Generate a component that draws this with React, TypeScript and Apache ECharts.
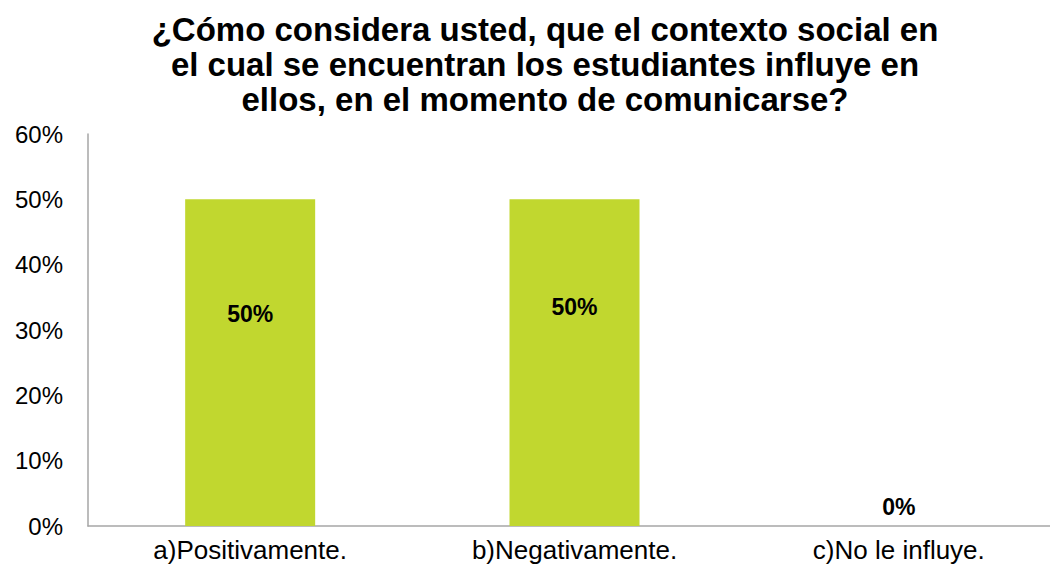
import React, { useEffect, useRef } from "react";
import * as echarts from "echarts";

const titleLines = [
  "¿Cómo considera usted, que el contexto social en",
  "el cual se encuentran los estudiantes influye en",
  "ellos, en el momento de comunicarse?",
];
const categories = ["a)Positivamente.", "b)Negativamente.", "c)No le influye."];
const values = [50, 50, 0];
const labelPositions: any[] = [["50%", "35%"], ["50%", "33%"], "top"];

export default function App() {
  const ref = useRef<HTMLDivElement>(null);
  useEffect(() => {
    document.body.style.margin = "0";
    document.body.style.overflow = "hidden";
    const chart = echarts.init(ref.current!, null, { renderer: "svg" });
    const font = "Liberation Sans, Arial, sans-serif";
    chart.setOption({
      animation: false,
      backgroundColor: "#ffffff",
      title: {
        text: titleLines.join("\n"),
        left: 540,
        textAlign: "center",
        top: 7,
        textStyle: {
          fontFamily: font,
          fontWeight: "bold",
          fontSize: 33,
          lineHeight: 35,
          color: "#000000",
        },
      },
      grid: { left: 88, top: 134, width: 973, height: 392, containLabel: false },
      xAxis: {
        type: "category",
        data: categories,
        axisLine: { show: true, lineStyle: { color: "#A6A6A6", width: 1.5 } },
        axisTick: { show: false },
        axisLabel: { fontFamily: font, fontSize: 26, color: "#000000", margin: 11 },
      },
      yAxis: {
        type: "value",
        min: 0,
        max: 60,
        interval: 10,
        axisLine: { show: true, lineStyle: { color: "#A6A6A6", width: 1.5 } },
        axisTick: { show: false },
        splitLine: { show: false },
        axisLabel: {
          fontFamily: font,
          fontSize: 24,
          color: "#000000",
          margin: 25,
          formatter: "{value}%",
        },
      },
      series: [
        {
          type: "bar",
          barWidth: 130,
          itemStyle: { color: "#C1D72F" },
          data: values.map((v, i) => ({
            value: v,
            label: {
              show: true,
              position: labelPositions[i],
              distance: 19,
              align: "center",
              verticalAlign: "middle",
              formatter: "{c}%",
              fontFamily: font,
              fontWeight: "bold",
              fontSize: 23,
              color: "#000000",
            },
          })),
        },
      ],
    });
    return () => chart.dispose();
  }, []);
  return (
    <div
      ref={ref}
      style={{ width: 1065, height: 567, position: "absolute", left: 0, top: 0 }}
    />
  );
}
